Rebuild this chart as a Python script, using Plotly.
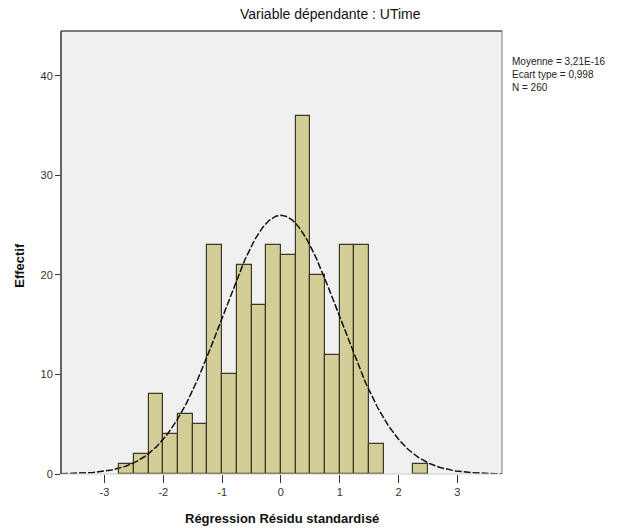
import numpy as np
import plotly.graph_objects as go

# Histogram of standardized regression residuals (bin width 0.25)
bin_left = [-2.75, -2.5, -2.25, -2.0, -1.75, -1.5, -1.25, -1.0, -0.75, -0.5,
            -0.25, 0.0, 0.25, 0.5, 0.75, 1.0, 1.25, 1.5, 2.25]
counts = [1, 2, 8, 4, 6, 5, 23, 10, 21, 17, 23, 22, 36, 20, 12, 23, 23, 3, 1]
bin_width = 0.25

# Summary statistics shown beside the chart
mean_val = 3.21e-16
sd_val = 0.998
n_obs = 260
stats_lines = ["Moyenne = 3,21E-16", "Ecart type = 0,998", "N = 260"]

x_ticks = [-3, -2, -1, 0, 1, 2, 3]
x_tick_labels = ["-3", "-2", "-1", "0", "1", "2", "3"]
y_ticks = [0, 10, 20, 30, 40]
x_range = [-3.74, 3.76]
y_range = [0, 44.5]

centers = [b + bin_width / 2 for b in bin_left]

# Fitted normal curve scaled to counts
xs = np.linspace(x_range[0], x_range[1], 400)
ys = n_obs * bin_width / (sd_val * np.sqrt(2 * np.pi)) * np.exp(-0.5 * ((xs - mean_val) / sd_val) ** 2)

font_family = "Liberation Sans, Arial, sans-serif"

fig = go.Figure()
fig.add_trace(go.Bar(
    x=centers, y=counts, width=bin_width,
    marker=dict(color="#d3ce97", line=dict(color="#3a3826", width=1.2)),
    hoverinfo="x+y",
))
fig.add_trace(go.Scatter(
    x=xs, y=ys, mode="lines",
    line=dict(color="#111111", width=1.5, dash="7px,2px"),
    hoverinfo="skip",
))

fig.update_layout(
    width=621, height=528,
    margin=dict(l=61, r=119, t=31, b=54, autoexpand=False),
    paper_bgcolor="white",
    plot_bgcolor="#f0f0f0",
    showlegend=False,
    bargap=0,
    font=dict(family=font_family, size=11, color="#333333"),
    xaxis=dict(
        range=x_range, tickvals=x_ticks, ticktext=x_tick_labels,
        ticks="outside", ticklen=8, automargin=False,
        tickcolor="#333333", tickwidth=1, showgrid=False, zeroline=False,
        showline=False, tickfont=dict(size=11, color="#333333"),
    ),
    yaxis=dict(
        range=y_range, tickvals=y_ticks, ticks="outside", ticklen=5,
        automargin=False,
        tickcolor="#333333", tickwidth=1, showgrid=False, zeroline=False,
        showline=False, tickfont=dict(size=11, color="#333333"),
    ),
    annotations=[
        dict(text="Variable dépendante : UTime", xref="paper", yref="paper",
             x=0.61, y=1.0, yshift=7, xanchor="center", yanchor="bottom",
             showarrow=False, font=dict(size=14, color="#111111")),
        dict(text="<br>".join(stats_lines), xref="paper", yref="paper",
             x=1.0, xshift=8, y=0.948, xanchor="left", yanchor="top",
             align="left", showarrow=False,
             font=dict(size=10, color="#222222")),
        dict(text="<b>Régression Résidu standardisé</b>", xref="paper",
             yref="paper", x=0.5, y=0, yshift=-44, xanchor="center",
             yanchor="middle", showarrow=False,
             font=dict(size=13, color="#111111")),
        dict(text="<b>Effectif</b>", xref="paper", yref="paper",
             x=0, xshift=-41, y=0.47, xanchor="center", yanchor="middle",
             textangle=-90, showarrow=False,
             font=dict(size=13, color="#111111")),
    ],
    shapes=[
        dict(type="line", xref="paper", yref="paper", x0=0, x1=1, y0=0, y1=0,
             line=dict(color="#cccccc", width=1)),
        dict(type="line", xref="paper", yref="paper", x0=1, x1=1, y0=0, y1=1,
             line=dict(color="#777777", width=1)),
        dict(type="line", xref="paper", yref="paper", x0=0, x1=1, y0=1, y1=1,
             line=dict(color="#555555", width=1.5)),
        dict(type="line", xref="paper", yref="paper", x0=0, x1=0, y0=0, y1=1,
             line=dict(color="#333333", width=1.5)),
    ],
)

fig.write_html("out.html")
